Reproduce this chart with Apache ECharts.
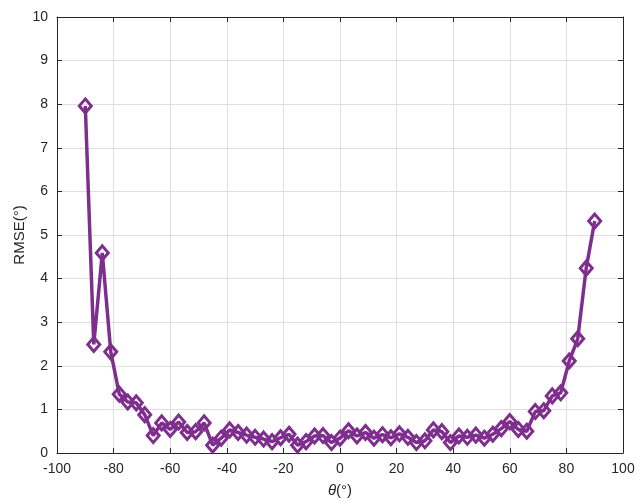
<!DOCTYPE html>
<html>
<head>
<meta charset="utf-8">
<script src="https://cdn.jsdelivr.net/npm/echarts@6/dist/echarts.min.js"></script>
<style>
  html, body { margin: 0; padding: 0; background: #fff; }
  #chart { width: 636px; height: 501px; }
</style>
</head>
<body>
<div id="chart"></div>
<script>
// angle grid (deg) and RMSE values
const theta = [-90, -87, -84, -81, -78, -75, -72, -69, -66, -63, -60, -57, -54, -51, -48, -45, -42, -39, -36, -33,
  -30, -27, -24, -21, -18, -15, -12, -9, -6, -3, 0, 3, 6, 9, 12, 15, 18, 21, 24, 27,
  30, 33, 36, 39, 42, 45, 48, 51, 54, 57, 60, 63, 66, 69, 72, 75, 78, 81, 84, 87, 90]
const rmse = [7.96, 2.49, 4.59, 2.32, 1.35, 1.17, 1.15, 0.88, 0.40, 0.69, 0.54, 0.71, 0.47, 0.49, 0.69, 0.18, 0.34, 0.53, 0.47, 0.41,
  0.36, 0.32, 0.26, 0.35, 0.43, 0.18, 0.26, 0.39, 0.40, 0.24, 0.34, 0.51, 0.39, 0.47, 0.34, 0.42, 0.35, 0.44, 0.36, 0.24,
  0.28, 0.53, 0.49, 0.24, 0.39, 0.36, 0.41, 0.34, 0.43, 0.56, 0.72, 0.54, 0.50, 0.95, 0.97, 1.31, 1.38, 2.11, 2.62, 4.24, 5.32]
const xTicks = [-100, -80, -60, -40, -20, 0, 20, 40, 60, 80, 100]
const yTicks = [0, 1, 2, 3, 4, 5, 6, 7, 8, 9, 10]

const axisColor = '#262626'
const gridColor = '#dedede'
const font = 'Liberation Sans, Arial, sans-serif'

const chart = echarts.init(document.getElementById('chart'))

const baseX = {
  type: 'value',
  min: xTicks[0],
  max: xTicks[xTicks.length - 1],
  interval: xTicks[1] - xTicks[0],
  axisLine: { show: true, onZero: false, lineStyle: { color: axisColor, width: 1 } },
  axisTick: { show: true, inside: true, length: 5, lineStyle: { color: axisColor } }
}
const baseY = {
  type: 'value',
  min: yTicks[0],
  max: yTicks[yTicks.length - 1],
  interval: yTicks[1] - yTicks[0],
  axisLine: { show: true, onZero: false, lineStyle: { color: axisColor, width: 1 } },
  axisTick: { show: true, inside: true, length: 5, lineStyle: { color: axisColor } }
}

const option = {
  animation: false,
  backgroundColor: '#fff',
  grid: { left: 57, right: 13, top: 17, bottom: 48, containLabel: false, outerBoundsMode: 'none' },
  xAxis: [
    Object.assign({}, baseX, {
      position: 'bottom',
      name: '{i|θ}(°)',
      nameLocation: 'middle',
      nameGap: 30,
      nameMoveOverlap: false,
      nameTextStyle: {
        color: axisColor, fontSize: 15, fontFamily: font,
        rich: { i: { fontStyle: 'italic', fontSize: 15, fontFamily: font, color: axisColor } }
      },
      axisLabel: { color: axisColor, fontSize: 14, fontFamily: font, margin: 9 },
      splitLine: { show: true, lineStyle: { color: gridColor, width: 1 } }
    }),
    Object.assign({}, baseX, {
      position: 'top',
      axisLabel: { show: false },
      splitLine: { show: false }
    })
  ],
  yAxis: [
    Object.assign({}, baseY, {
      position: 'left',
      name: 'RMSE(°)',
      nameLocation: 'middle',
      nameGap: 30,
      nameMoveOverlap: false,
      nameTextStyle: { color: axisColor, fontSize: 15, fontFamily: font },
      axisLabel: { color: axisColor, fontSize: 14, fontFamily: font, margin: 9 },
      splitLine: { show: true, lineStyle: { color: gridColor, width: 1 } }
    }),
    Object.assign({}, baseY, {
      position: 'right',
      axisLabel: { show: false },
      splitLine: { show: false }
    })
  ],
  series: [
    {
      type: 'line',
      data: theta.map((t, i) => [t, rmse[i]]),
      xAxisIndex: 0,
      yAxisIndex: 0,
      symbol: 'diamond',
      symbolSize: [12, 14],
      showAllSymbol: true,
      lineStyle: { color: '#7E2F8E', width: 3.5 },
      itemStyle: { color: 'rgba(255,255,255,0)', borderColor: '#7E2F8E', borderWidth: 3 }
    }
  ]
}

chart.setOption(option)
</script>
</body>
</html>
